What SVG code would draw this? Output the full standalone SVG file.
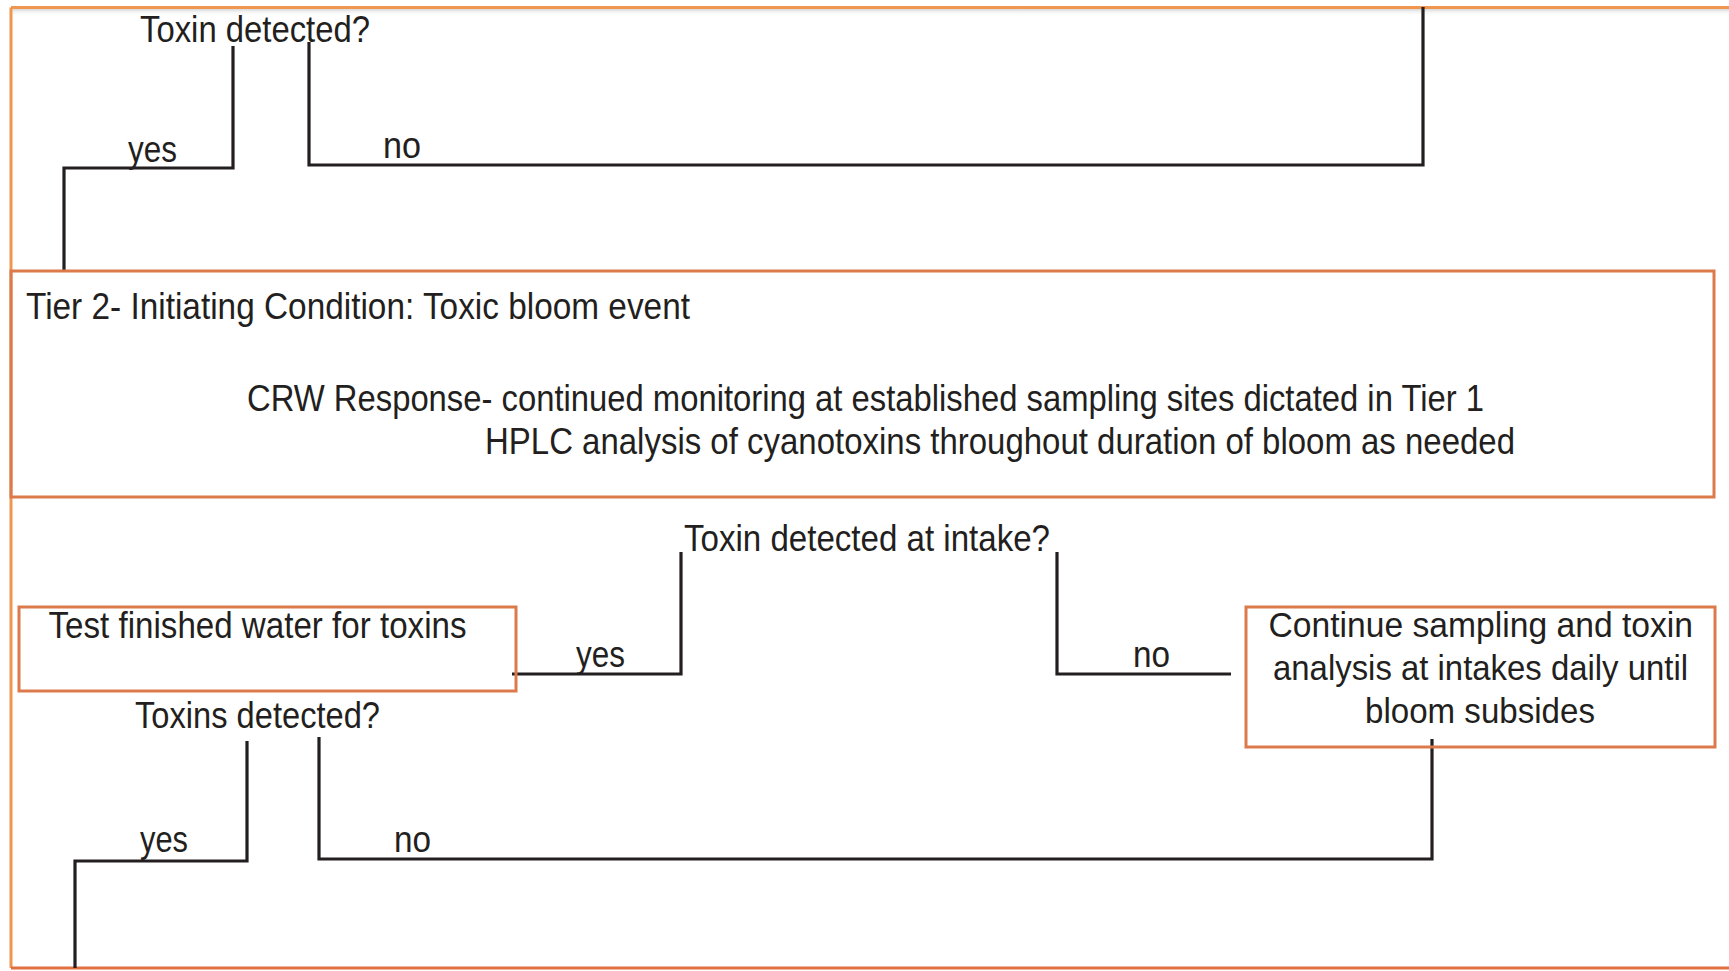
<svg xmlns="http://www.w3.org/2000/svg" width="1729" height="971" viewBox="0 0 1729 971">
<style>
.t{font-family:"Liberation Sans",Arial,sans-serif;font-size:37px;fill:#231F20}
.s{font-size:35px}
.box{fill:none;stroke:#DC7A4C;stroke-width:3}
.frame{fill:none;stroke:#F0964E;stroke-width:3}
.c{fill:none;stroke:#231F20;stroke-width:3.2}
</style>
<rect width="1729" height="971" fill="#ffffff"/>
<defs>
<linearGradient id="sh" x1="0" y1="0" x2="0" y2="1">
<stop offset="0" stop-color="#d8d8d8"/>
<stop offset="1" stop-color="#ffffff" stop-opacity="0"/>
</linearGradient>
</defs>
<g id="frame">
<rect x="12" y="9" width="1717" height="7" fill="url(#sh)"/>
<path class="frame" d="M11,7.5 H1729 M11,7.5 V968"/>
<path d="M11,968 H1729" fill="none" stroke="#E0703F" stroke-width="3"/>
</g>
<g id="connectors">
<path class="c" d="M233,46 V168 H64 V271"/>
<path class="c" d="M309,42 V165 H1423 V7"/>
<path class="c" d="M681,552 V674 H512"/>
<path class="c" d="M1057,552 V674 H1231"/>
<path class="c" d="M247,741 V861 H75 V968"/>
<path class="c" d="M319,737 V859 H1432 V739"/>
<text class="t" x="128" y="162" textLength="49" lengthAdjust="spacingAndGlyphs">yes</text>
<text class="t" x="383" y="158" textLength="38" lengthAdjust="spacingAndGlyphs">no</text>
<text class="t" x="576" y="667" textLength="49" lengthAdjust="spacingAndGlyphs">yes</text>
<text class="t" x="1133" y="667" textLength="37" lengthAdjust="spacingAndGlyphs">no</text>
<text class="t" x="140" y="852" textLength="48" lengthAdjust="spacingAndGlyphs">yes</text>
<text class="t" x="394" y="852" textLength="37" lengthAdjust="spacingAndGlyphs">no</text>
</g>
<g id="q1">
<text class="t" x="140" y="42" textLength="230" lengthAdjust="spacingAndGlyphs">Toxin detected?</text>
</g>
<g id="tier2">
<rect class="box" x="11" y="271" width="1703" height="226"/>
<text class="t" x="26" y="319" textLength="664" lengthAdjust="spacingAndGlyphs">Tier 2- Initiating Condition: Toxic bloom event</text>
<text class="t" x="247" y="411" textLength="1237" lengthAdjust="spacingAndGlyphs">CRW Response- continued monitoring at established sampling sites dictated in Tier 1</text>
<text class="t" x="485" y="454" textLength="1030" lengthAdjust="spacingAndGlyphs">HPLC analysis of cyanotoxins throughout duration of bloom as needed</text>
</g>
<g id="q2">
<text class="t" x="684" y="551" textLength="366" lengthAdjust="spacingAndGlyphs">Toxin detected at intake?</text>
</g>
<g id="test">
<rect class="box" x="19" y="607" width="497" height="84"/>
<text class="t" x="48.5" y="638" textLength="418" lengthAdjust="spacingAndGlyphs">Test finished water for toxins</text>
</g>
<g id="q3">
<text class="t" x="135" y="728" textLength="245" lengthAdjust="spacingAndGlyphs">Toxins detected?</text>
</g>
<g id="continue">
<rect class="box" x="1246" y="607" width="469" height="140"/>
<text class="t s" x="1268.5" y="637" textLength="424.5" lengthAdjust="spacingAndGlyphs">Continue sampling and toxin</text>
<text class="t s" x="1273" y="680" textLength="415" lengthAdjust="spacingAndGlyphs">analysis at intakes daily until</text>
<text class="t s" x="1365" y="723" textLength="230" lengthAdjust="spacingAndGlyphs">bloom subsides</text>
</g>
</svg>
